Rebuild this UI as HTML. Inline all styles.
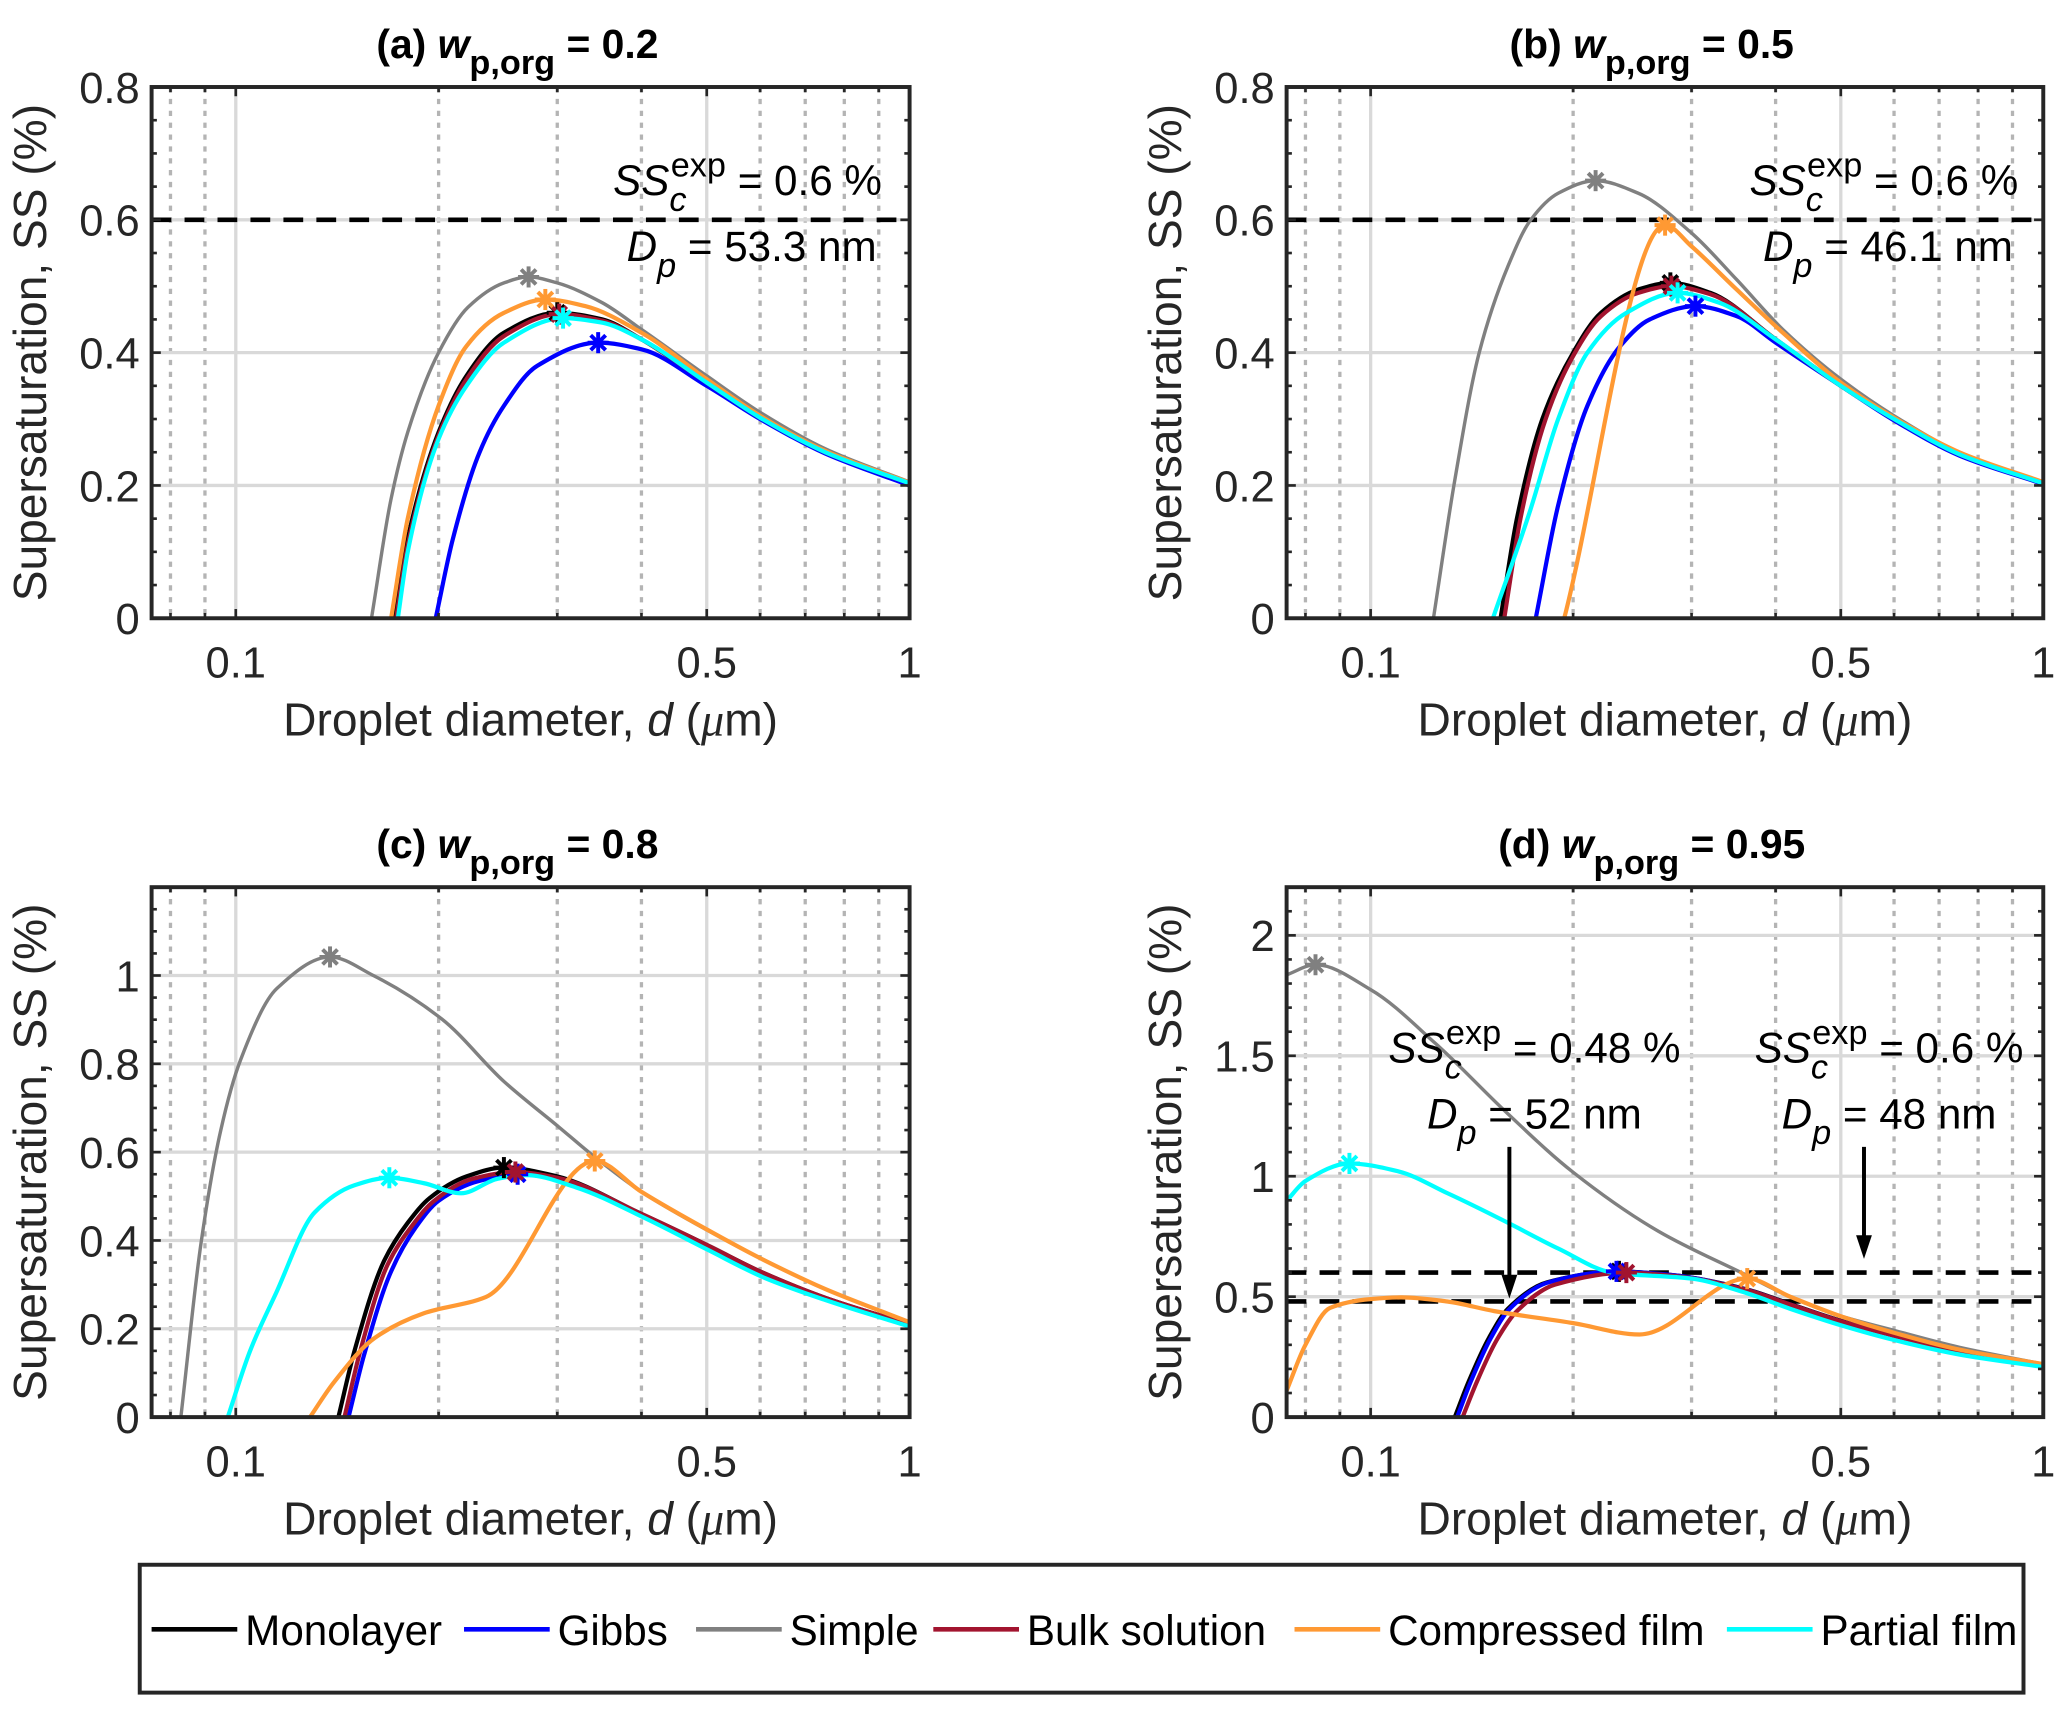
<!DOCTYPE html>
<html><head><meta charset="utf-8"><style>
html,body{margin:0;padding:0;background:#fff;}
svg{display:block;font-family:"Liberation Sans",Arial,sans-serif;}
</style></head><body>
<svg id="fig" width="2067" height="1712" viewBox="0 0 1568 1298.7" preserveAspectRatio="none" xmlns="http://www.w3.org/2000/svg">
<rect x="0" y="0" width="1568" height="1299" fill="#fff"/>
</svg>
<script>
// ---------- data (d in µm, SS in %) ----------
const seriesNames = ["Monolayer","Gibbs","Simple","Bulk solution","Compressed film","Partial film"];
const seriesColors = ["#000000","#0000ff","#808080","#a2142f","#ff9933","#00ffff"];
const panelTitles = ["(a)","(b)","(c)","(d)"];
const panelWvals = ["0.2","0.5","0.8","0.95"];
const xTicks = [0.1,0.5,1];
const xTickLabels = ["0.1","0.5","1"];
const yTicksA = [0,0.2,0.4,0.6,0.8];
const yTickLabelsA = ["0","0.2","0.4","0.6","0.8"];
const yTicksC = [0,0.2,0.4,0.6,0.8,1];
const yTickLabelsC = ["0","0.2","0.4","0.6","0.8","1"];
const yTicksD = [0,0.5,1,1.5,2];
const yTickLabelsD = ["0","0.5","1","1.5","2"];
const yMaxes = [0.8,0.8,1.2,2.2];
const dashLevelsA = [0.6];
const dashLevelsB = [0.6];
const dashLevelsC = [];
const dashLevelsD = [0.6,0.48];

const a_monolayer=[[0.172,0],[0.18,0.12],[0.2,0.28],[0.22,0.365],[0.25,0.43],[0.3,0.46],[0.35,0.45],[0.4,0.42],[0.5,0.355],[0.6,0.302],[0.75,0.25],[1,0.203]];
const a_gibbs=[[0.198,0],[0.21,0.12],[0.23,0.25],[0.25,0.32],[0.28,0.38],[0.345,0.415],[0.4,0.405],[0.5,0.35],[0.6,0.3],[0.75,0.248],[1,0.2]];
const a_simple=[[0.159,0],[0.17,0.18],[0.18,0.28],[0.2,0.4],[0.221,0.468],[0.25,0.505],[0.272,0.514],[0.3,0.505],[0.35,0.475],[0.4,0.435],[0.5,0.365],[0.6,0.31],[0.75,0.255],[1,0.205]];
const a_bulk=[[0.173,0],[0.18,0.11],[0.2,0.275],[0.22,0.36],[0.25,0.425],[0.302,0.458],[0.35,0.448],[0.4,0.42],[0.5,0.355],[0.6,0.302],[0.75,0.25],[1,0.203]];
const a_comp=[[0.17,0],[0.18,0.15],[0.2,0.32],[0.22,0.41],[0.25,0.46],[0.288,0.48],[0.33,0.47],[0.4,0.43],[0.5,0.36],[0.6,0.305],[0.75,0.252],[1,0.204]];
const a_partial=[[0.174,0],[0.18,0.1],[0.2,0.27],[0.22,0.35],[0.25,0.415],[0.306,0.452],[0.35,0.445],[0.4,0.42],[0.5,0.355],[0.6,0.302],[0.75,0.25],[1,0.203]];

const b_monolayer=[[0.156,0],[0.165,0.15],[0.18,0.3],[0.2,0.4],[0.22,0.46],[0.25,0.495],[0.279,0.505],[0.32,0.49],[0.4,0.42],[0.5,0.35],[0.6,0.3],[0.75,0.247],[1,0.203]];
const b_gibbs=[[0.176,0],[0.19,0.17],[0.21,0.32],[0.235,0.41],[0.26,0.45],[0.304,0.47],[0.35,0.455],[0.4,0.415],[0.5,0.35],[0.6,0.298],[0.75,0.245],[1,0.202]];
const b_simple=[[0.124,0],[0.133,0.2],[0.145,0.4],[0.16,0.53],[0.173,0.6],[0.19,0.64],[0.216,0.659],[0.25,0.64],[0.3,0.58],[0.35,0.51],[0.41,0.435],[0.5,0.36],[0.6,0.305],[0.75,0.25],[1,0.205]];
const b_bulk=[[0.158,0],[0.167,0.15],[0.182,0.3],[0.2,0.395],[0.22,0.455],[0.25,0.49],[0.28,0.5],[0.32,0.488],[0.4,0.42],[0.5,0.35],[0.6,0.3],[0.75,0.247],[1,0.203]];
const b_comp=[[0.194,0],[0.274,0.592],[0.3,0.56],[0.35,0.495],[0.41,0.43],[0.5,0.355],[0.6,0.302],[0.75,0.25],[1,0.205]];
const b_partial=[[0.152,0],[0.173,0.165],[0.19,0.3],[0.21,0.4],[0.24,0.46],[0.286,0.49],[0.33,0.475],[0.4,0.42],[0.5,0.35],[0.6,0.3],[0.75,0.247],[1,0.203]];

const c_monolayer=[[0.142,0],[0.15,0.15],[0.166,0.354],[0.18,0.44],[0.194,0.496],[0.22,0.545],[0.25,0.565],[0.3,0.545],[0.4,0.46],[0.5,0.39],[0.6,0.33],[0.75,0.27],[1,0.21]];
const c_gibbs=[[0.147,0],[0.155,0.14],[0.17,0.33],[0.185,0.43],[0.2,0.49],[0.23,0.535],[0.262,0.55],[0.3,0.54],[0.4,0.458],[0.5,0.388],[0.6,0.328],[0.75,0.268],[1,0.21]];
const c_simple=[[0.0829,0],[0.0888,0.394],[0.095,0.65],[0.1016,0.808],[0.115,0.97],[0.138,1.042],[0.16,1.0],[0.202,0.902],[0.25,0.76],[0.3,0.66],[0.341,0.589],[0.4,0.51],[0.5,0.424],[0.6,0.36],[0.75,0.29],[1,0.215]];
const c_bulk=[[0.145,0],[0.153,0.15],[0.168,0.345],[0.183,0.435],[0.197,0.49],[0.225,0.54],[0.26,0.555],[0.3,0.542],[0.4,0.46],[0.5,0.39],[0.6,0.33],[0.75,0.27],[1,0.21]];
const c_comp=[[0.1289,0],[0.14,0.08],[0.161,0.18],[0.19,0.235],[0.235,0.272],[0.341,0.58],[0.4,0.51],[0.5,0.425],[0.6,0.36],[0.75,0.29],[1,0.215]];
const c_partial=[[0.0973,0],[0.105,0.15],[0.1144,0.276],[0.131,0.464],[0.15,0.525],[0.169,0.542],[0.19,0.53],[0.216,0.507],[0.245,0.54],[0.27,0.548],[0.32,0.52],[0.408,0.448],[0.5,0.38],[0.61,0.315],[0.75,0.265],[1,0.205]];

const d_monolayer=[[0.1334,0],[0.14,0.15],[0.15,0.33],[0.16,0.45],[0.183,0.56],[0.234,0.605],[0.28,0.59],[0.363,0.53],[0.42,0.47],[0.5,0.4],[0.6,0.34],[0.75,0.275],[1,0.21]];
const d_gibbs=[[0.1345,0],[0.141,0.15],[0.151,0.33],[0.161,0.45],[0.184,0.56],[0.232,0.605],[0.28,0.59],[0.363,0.528],[0.42,0.468],[0.5,0.398],[0.6,0.338],[0.75,0.273],[1,0.21]];
const d_simple=[[0.075,1.836],[0.0828,1.878],[0.1,1.775],[0.125,1.55],[0.1597,1.261],[0.2,1.016],[0.268,0.771],[0.363,0.588],[0.42,0.5],[0.5,0.42],[0.6,0.36],[0.75,0.29],[1,0.22]];
const d_bulk=[[0.137,0],[0.144,0.15],[0.154,0.32],[0.165,0.44],[0.188,0.55],[0.24,0.6],[0.285,0.585],[0.363,0.527],[0.42,0.468],[0.5,0.398],[0.6,0.338],[0.75,0.273],[1,0.21]];
const d_comp=[[0.075,0.11],[0.08,0.3],[0.087,0.453],[0.1,0.49],[0.111,0.497],[0.13,0.48],[0.1527,0.44],[0.2,0.39],[0.251,0.343],[0.363,0.575],[0.42,0.5],[0.503,0.416],[0.6,0.35],[0.75,0.28],[1,0.22]];
const d_partial=[[0.075,0.898],[0.08,0.98],[0.093,1.053],[0.11,1.02],[0.13,0.93],[0.1597,0.808],[0.19,0.7],[0.229,0.6],[0.3,0.575],[0.363,0.514],[0.42,0.45],[0.503,0.379],[0.6,0.32],[0.75,0.26],[1,0.208]];

const a_peaks=[[0.3,0.46],[0.345,0.415],[0.272,0.514],[0.302,0.458],[0.288,0.48],[0.306,0.452]];
const b_peaks=[[0.279,0.505],[0.304,0.47],[0.216,0.659],[0.28,0.5],[0.274,0.592],[0.286,0.49]];
const c_peaks=[[0.25,0.565],[0.262,0.55],[0.138,1.042],[0.26,0.555],[0.341,0.58],[0.169,0.542]];
const d_peaks=[[0.234,0.605],[0.232,0.605],[0.0828,1.878],[0.24,0.6],[0.363,0.575],[0.093,1.053]];

// ---------- drawing ----------
const NS="http://www.w3.org/2000/svg";
const svg=document.getElementById('fig');
function mk(tag,attrs,parent){const e=document.createElementNS(NS,tag);for(const k in attrs)e.setAttribute(k,attrs[k]);(parent||svg).appendChild(e);return e;}

const XMIN=0.075, XMAX=1;
const boxes=[{l:115,r:690,t:66,b:469},{l:976,r:1550,t:66,b:469},{l:115,r:690,t:673,b:1075},{l:976,r:1550,t:673,b:1075}];
const allSeries=[[a_monolayer,a_gibbs,a_simple,a_bulk,a_comp,a_partial],[b_monolayer,b_gibbs,b_simple,b_bulk,b_comp,b_partial],[c_monolayer,c_gibbs,c_simple,c_bulk,c_comp,c_partial],[d_monolayer,d_gibbs,d_simple,d_bulk,d_comp,d_partial]];
const allPeaks=[a_peaks,b_peaks,c_peaks,d_peaks];
const allYT=[yTicksA,yTicksA,yTicksC,yTicksD];
const allYL=[yTickLabelsA,yTickLabelsA,yTickLabelsC,yTickLabelsD];
const allDash=[dashLevelsA,dashLevelsB,dashLevelsC,dashLevelsD];
const yMinor=[0.05,0.05,0.05,0.1];
const minorX=[0.08,0.09,0.2,0.3,0.4,0.6,0.7,0.8,0.9];

// monotone cubic (Fritsch-Carlson) in pixel space, x increasing
function monoPath(P){
  const n=P.length;
  if(n<2) return "";
  const dx=[],m=[],t=new Array(n);
  for(let i=0;i<n-1;i++){dx[i]=P[i+1][0]-P[i][0];m[i]=(P[i+1][1]-P[i][1])/dx[i];}
  t[0]=m[0];t[n-1]=m[n-2];
  for(let i=1;i<n-1;i++){
    if(m[i-1]*m[i]<=0) t[i]=0;
    else{const w1=2*dx[i]+dx[i-1],w2=dx[i]+2*dx[i-1];t[i]=(w1+w2)/(w1/m[i-1]+w2/m[i]);}
  }
  let d="M"+P[0][0].toFixed(1)+","+P[0][1].toFixed(1);
  for(let i=0;i<n-1;i++){
    const h=dx[i]/3;
    d+=" C"+(P[i][0]+h).toFixed(1)+","+(P[i][1]+t[i]*h).toFixed(1)+" "+(P[i+1][0]-h).toFixed(1)+","+(P[i+1][1]-t[i+1]*h).toFixed(1)+" "+P[i+1][0].toFixed(1)+","+P[i+1][1].toFixed(1);
  }
  return d;
}
function star(g,cx,cy,col){
  const r=8;
  for(let k=0;k<4;k++){const a=k*Math.PI/4;
    mk('line',{x1:cx-r*Math.cos(a),y1:cy-r*Math.sin(a),x2:cx+r*Math.cos(a),y2:cy+r*Math.sin(a),stroke:col,'stroke-width':3},g);
  }
}

boxes.forEach((B,pi)=>{
  const yMax=yMaxes[pi];
  const xs=v=>B.l+(Math.log10(v)-Math.log10(XMIN))/(Math.log10(XMAX)-Math.log10(XMIN))*(B.r-B.l);
  const ys=v=>B.b-v/yMax*(B.b-B.t);
  const g=mk('g',{});
  
  
  const cp=mk('clipPath',{id:'clip'+pi},g);
  mk('rect',{x:B.l,y:B.t,width:B.r-B.l,height:B.b-B.t},cp);
  const grid=mk('g',{},g);
  
  
  minorX.forEach(v=>mk('line',{x1:xs(v),x2:xs(v),y1:B.t,y2:B.b,stroke:'#b4b4b4','stroke-width':2.5,'stroke-dasharray':'4,5'},grid));
  xTicks.forEach(v=>mk('line',{x1:xs(v),x2:xs(v),y1:B.t,y2:B.b,stroke:'#d9d9d9','stroke-width':2.5},grid));
  allYT[pi].forEach(v=>mk('line',{x1:B.l,x2:B.r,y1:ys(v),y2:ys(v),stroke:'#d9d9d9','stroke-width':2.5},grid));
  allDash[pi].forEach(v=>{
    const l=mk('line',{x1:B.l,x2:B.r,y1:ys(v),y2:ys(v),stroke:'#000','stroke-width':3.5,'stroke-dasharray':'15,10'},g);
    
    
  });
  const sg=mk('g',{'clip-path':'url(#clip'+pi+')'},g);
  allSeries[pi].forEach((ser,si)=>{
    const pts=ser.map(p=>[xs(p[0]),ys(p[1])]);
    const p=mk('path',{d:monoPath(pts),fill:'none',stroke:seriesColors[si],'stroke-width':si==2?2.6:3.2,'stroke-linejoin':'round'},sg);
    
    
  });
  allPeaks[pi].forEach((pk,si)=>{
    const mg=mk('g',{},sg);
    
    
    star(mg,xs(pk[0]),ys(pk[1]),seriesColors[si]);
  });
  const tk=mk('g',{stroke:'#262626','stroke-width':2},g);
  for(let v=0;v<=yMax+1e-9;v+=yMinor[pi]){const y=ys(v);
    const L=allYT[pi].some(t=>Math.abs(t-v)<1e-6)?7:4;
    mk('line',{x1:B.l,x2:B.l+L,y1:y,y2:y},tk);mk('line',{x1:B.r,x2:B.r-L,y1:y,y2:y},tk);}
  minorX.concat(xTicks).forEach(v=>{const x=xs(v);const L=xTicks.includes(v)?7:4;
    mk('line',{x1:x,x2:x,y1:B.b,y2:B.b-L},tk);mk('line',{x1:x,x2:x,y1:B.t,y2:B.t+L},tk);});
  const bx=mk('rect',{x:B.l,y:B.t,width:B.r-B.l,height:B.b-B.t,fill:'none',stroke:'#262626','stroke-width':3},g);
  
  
  xTicks.forEach((v,i)=>{const t=mk('text',{x:xs(v),y:B.b+45,'font-size':33,'text-anchor':'middle',fill:'#262626'},g);t.textContent=xTickLabels[i];
    
    });
  allYT[pi].forEach((v,i)=>{const t=mk('text',{x:B.l-9,y:ys(v)+12,'font-size':33,'text-anchor':'end',fill:'#262626'},g);t.textContent=allYL[pi][i];
    
    });
  const xt=mk('text',{x:(B.l+B.r)/2,y:B.b+89,'font-size':35,'text-anchor':'middle',fill:'#262626'},g);
  
  
  xt.innerHTML='Droplet diameter, <tspan font-style="italic">d</tspan> (<tspan font-family="Liberation Serif" font-style="italic">μ</tspan>m)';
  const yx=B.l-80, yc=(B.t+B.b)/2;
  const yt=mk('text',{x:yx,y:yc,'font-size':35,'text-anchor':'middle',fill:'#262626',transform:'rotate(-90 '+yx+' '+yc+')'},g);
  
  
  yt.textContent='Supersaturation, SS (%)';
  const tt=mk('text',{x:(B.l+B.r)/2-10,y:B.t-22,'font-size':31,'font-weight':'bold','text-anchor':'middle',fill:'#000'},g);
  
  
  tt.innerHTML=panelTitles[pi]+' <tspan font-style="italic">w</tspan><tspan dy="12" font-size="26">p,org</tspan><tspan dy="-12"> = '+panelWvals[pi]+'</tspan>';
});

function annot(x,y,ss,dp,anchor){
  const t1=mk('text',{x:x,y:y,'font-size':32,'text-anchor':anchor,fill:'#000'});
  
  
  t1.innerHTML='<tspan font-style="italic">SS</tspan><tspan font-style="italic" dy="12" font-size="26">c</tspan><tspan dy="-26" dx="-12" font-size="26">exp</tspan><tspan dy="14"> = '+ss+' %</tspan>';
  const t2=mk('text',{x:x-(anchor=='end'?4:0),y:y+50,'font-size':32,'text-anchor':anchor,fill:'#000'});
  
  
  t2.innerHTML='<tspan font-style="italic">D</tspan><tspan font-style="italic" dy="12" font-size="26">p</tspan><tspan dy="-12"> = '+dp+' nm</tspan>';
}
annot(669,148,'0.6','53.3','end');
annot(1531,148,'0.6','46.1','end');
annot(1164,806,'0.48','52','middle');
annot(1433,806,'0.6','48','middle');
[[1145,870,985],[1414,870,955]].forEach(a=>{
  const g=mk('g',{});
  
  
  mk('line',{x1:a[0],x2:a[0],y1:a[1],y2:a[2]-10,stroke:'#000','stroke-width':3},g);
  mk('polygon',{points:(a[0]-6)+','+(a[2]-18)+' '+(a[0]+6)+','+(a[2]-18)+' '+a[0]+','+a[2],fill:'#000'},g);
});

// legend
const lg=mk('g',{});


mk('rect',{x:106,y:1187,width:1429,height:97,fill:'#fff',stroke:'#262626','stroke-width':3},lg);
const legX=[115,352,528,708,982,1310];
seriesNames.forEach((n,i)=>{
  const eg=mk('g',{},lg);
  
  
  mk('line',{x1:legX[i],x2:legX[i]+65,y1:1236,y2:1236,stroke:seriesColors[i],'stroke-width':3.5},eg);
  const t=mk('text',{x:legX[i]+71,y:1248,'font-size':32,fill:'#000'},eg);
  t.textContent=n;
});
</script>
</body></html>
